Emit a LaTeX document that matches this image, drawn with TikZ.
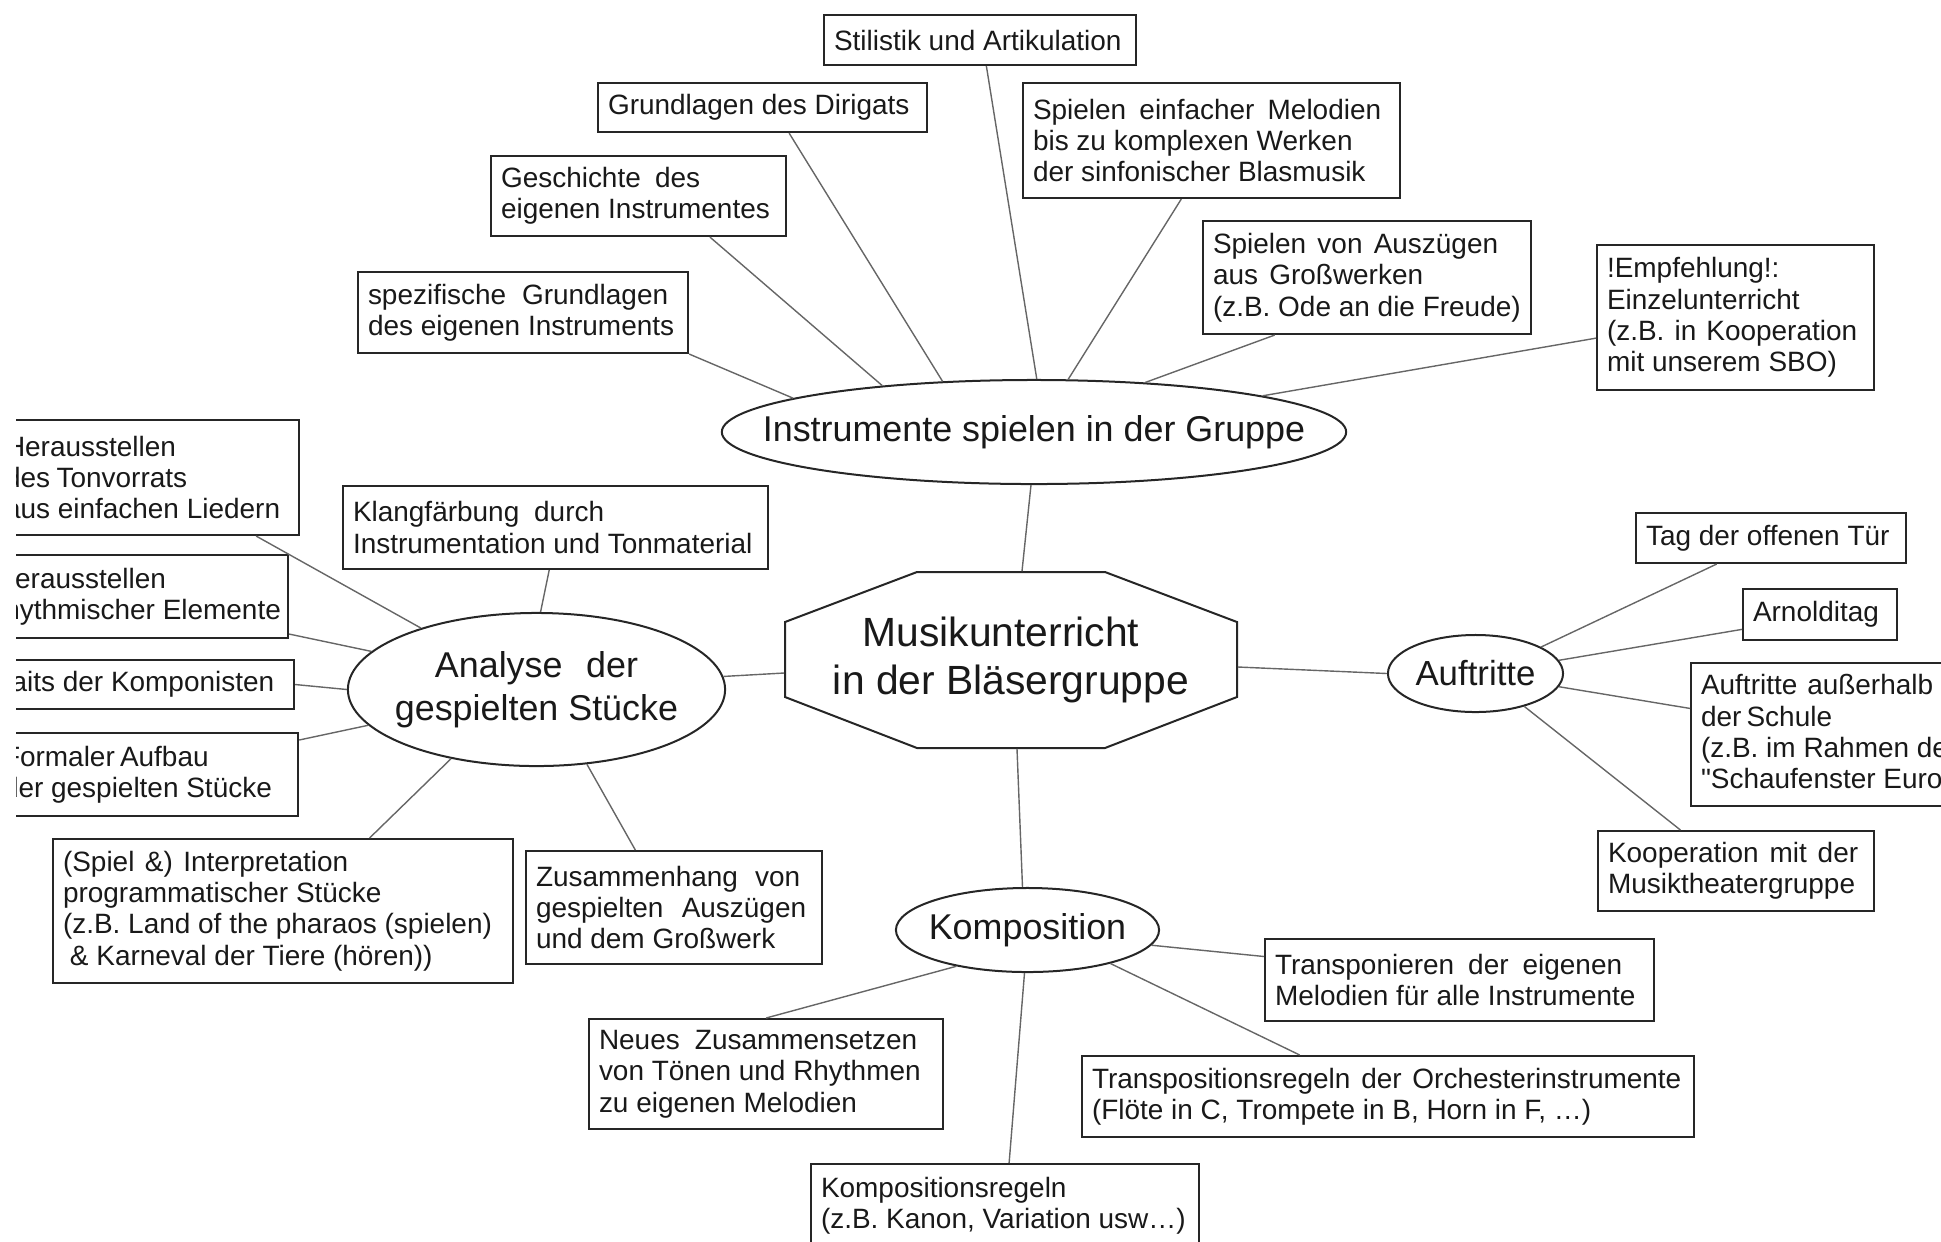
\documentclass[tikz,border=0pt]{standalone}
\usepackage{fontspec}
\setmainfont{Liberation Sans}
\newfontfamily\plainq{Liberation Sans}
\usetikzlibrary{shapes.geometric,calc}
\newcommand\nb[1]{{\spaceskip=0pt\xspaceskip=0pt\mbox{#1}}}
\newcommand\stl[2]{{\spaceskip=0pt\xspaceskip=0pt\makebox[#1][s]{#2}}}
\begin{document}
\begin{tikzpicture}[x=0.01cm,y=-0.01cm,
  bx/.style={draw=black!85, line width=0.02cm, rectangle, anchor=north west, inner xsep=0.1cm, inner ysep=0pt, align=left, font=\fontsize{7.95}{8.9}\selectfont, text=black!90},
  ell/.style={draw=black!85, line width=0.02cm, ellipse, inner sep=0pt},
  lab/.style={font=\fontsize{10.2}{11.4}\selectfont, align=center, text=black!90},
  con/.style={draw=black!60, line width=0.014cm}]
\useasboundingbox (0,0) rectangle (1941,1241);
\begin{scope}
\clip (16,0) rectangle (1941,1241);
% top boxes
\node[bx, minimum width=3.12cm, minimum height=0.50cm, text width=2.92cm] (stil) at (823,14) {\nb{Stilistik und Artikulation}};
\node[bx, minimum width=3.29cm, minimum height=0.49cm, text width=3.09cm] (dirig) at (597,82) {\nb{Grundlagen des Dirigats}};
\node[bx, minimum width=3.77cm, minimum height=1.15cm, text width=3.57cm] (spiel) at (1022,82) {\stl{3.48cm}{Spielen einfacher Melodien}\\\nb{bis zu komplexen Werken}\\\nb{der sinfonischer Blasmusik}};
\node[bx, minimum width=2.95cm, minimum height=0.80cm, text width=2.75cm] (gesch) at (490,155) {\stl{1.99cm}{Geschichte des}\\\nb{eigenen Instrumentes}};
\node[bx, minimum width=3.28cm, minimum height=1.13cm, text width=3.08cm] (ausz) at (1202,220) {\stl{2.85cm}{Spielen von Auszügen}\\\stl{2.10cm}{aus Großwerken}\\\nb{(z.B. Ode an die Freude)}};
\node[bx, minimum width=3.30cm, minimum height=0.81cm, text width=3.10cm] (spez) at (357,271) {\stl{3.00cm}{spezifische Grundlagen}\\\nb{des eigenen Instruments}};
\node[bx, minimum width=2.77cm, minimum height=1.45cm, text width=2.57cm] (empf) at (1596,244) {\nb{!Empfehlung!:}\\\nb{Einzelunterricht}\\\stl{2.50cm}{(z.B. in Kooperation}\\\nb{mit unserem SBO)}};
% left boxes
\node[bx, minimum width=3.04cm, minimum height=1.15cm, text width=2.84cm] (tonv) at (-6,419) {\nb{Herausstellen}\\\stl{1.82cm}{des Tonvorrats}\\\nb{aus einfachen Liedern}};
\node[bx, minimum width=3.03cm, minimum height=0.83cm, text width=2.83cm] (rhy) at (-16,554) {\nb{Herausstellen}\\\nb{rhythmischer Elemente}};
\node[bx, minimum width=3.53cm, minimum height=0.49cm, text width=3.33cm] (port) at (-60,659) {\nb{Portraits der Komponisten}};
\node[bx, minimum width=3.05cm, minimum height=0.83cm, text width=2.85cm] (form) at (-8,732) {\stl{1.97cm}{Formaler Aufbau}\\\nb{der gespielten Stücke}};
\node[bx, minimum width=4.25cm, minimum height=0.83cm, text width=4.05cm] (klang) at (342,485) {\stl{2.51cm}{Klangfärbung durch}\\\nb{Instrumentation und Tonmaterial}};
\node[bx, minimum width=4.60cm, minimum height=1.44cm, text width=4.40cm] (interp) at (52,838) {\stl{2.85cm}{(Spiel \&) Interpretation}\\\nb{programmatischer Stücke}\\\nb{(z.B. Land of the pharaos (spielen)}\\\nb{\hspace*{0.25em}\& Karneval der Tiere (hören))}};
\node[bx, minimum width=2.96cm, minimum height=1.13cm, text width=2.76cm] (zus) at (525,850) {\stl{2.64cm}{Zusammenhang von}\\\stl{2.70cm}{gespielten Auszügen}\\\nb{und dem Großwerk}};
% right boxes
\node[bx, minimum width=2.70cm, minimum height=0.50cm, text width=2.50cm] (tag) at (1635,512) {\nb{Tag der offenen Tür}};
\node[bx, minimum width=1.54cm, minimum height=0.51cm, text width=1.34cm] (arn) at (1742,588) {\nb{Arnolditag}};
\node[bx, minimum width=3.20cm, minimum height=1.43cm, text width=3.00cm] (ausser) at (1690,662) {\stl{2.32cm}{Auftritte außerhalb}\\\stl{1.30cm}{der Schule}\\\nb{(z.B. im Rahmen des}\\\nb{{\plainq"}Schaufenster Europa{\plainq"})}};
\node[bx, minimum width=2.76cm, minimum height=0.80cm, text width=2.56cm] (koop) at (1597,830) {\stl{2.50cm}{Kooperation mit der}\\\nb{Musiktheatergruppe}};
% bottom boxes
\node[bx, minimum width=3.89cm, minimum height=0.82cm, text width=3.69cm] (transp) at (1264,938) {\stl{3.47cm}{Transponieren der eigenen}\\\nb{Melodien für alle Instrumente}};
\node[bx, minimum width=3.54cm, minimum height=1.10cm, text width=3.34cm] (neues) at (588,1018) {\stl{3.18cm}{Neues Zusammensetzen}\\\nb{von Tönen und Rhythmen}\\\nb{zu eigenen Melodien}};
\node[bx, minimum width=6.12cm, minimum height=0.81cm, text width=5.92cm] (tregeln) at (1081,1055) {\stl{5.89cm}{Transpositionsregeln der Orchesterinstrumente}\\\nb{(Flöte in C, Trompete in B, Horn in F, …)}};
\node[bx, minimum width=3.88cm, minimum height=0.84cm, text width=3.68cm] (kreg) at (810,1163) {\nb{Kompositionsregeln}\\\nb{(z.B. Kanon, Variation usw…)}};
% ellipses
\node[ell, minimum width=6.24cm, minimum height=1.04cm, label={[lab]center:Instrumente spielen in der Gruppe}] (instr) at (1034,432) {};
\node[ell, minimum width=3.77cm, minimum height=1.53cm, label={[lab,font=\fontsize{10.2}{12.1}\selectfont]center:\stl{2.03cm}{Analyse der}\\gespielten Stücke}] (anal) at (536.5,689.5) {};
\node[ell, minimum width=1.75cm, minimum height=0.77cm, label={[lab,font=\fontsize{9.9}{11}\selectfont]center:Auftritte}] (auf) at (1475.5,673.5) {};
\node[ell, minimum width=2.63cm, minimum height=0.84cm, label={[lab]center:Komposition}] (komp) at (1027.5,930) {};
% central octagon
\node[font=\fontsize{11.6}{13.7}\selectfont, align=center, text=black!90, minimum width=4.52cm, minimum height=1.76cm, inner sep=0pt] (oct) at (1011,660) {Musikunterricht\hspace*{0.5em}\\in der Bläsergruppe};
\draw[draw=black!85, line width=0.02cm] ($(oct.center)+(-94,-88)$) -- ++(188,0) -- ($(oct.center)+(226,-38)$) -- ++(0,75) -- ($(oct.center)+(94,88)$) -- ++(-188,0) -- ($(oct.center)+(-226,37)$) -- ++(0,-75) -- cycle;
% connectors: Instrumente
\draw[con] ($(stil.south west)!0.52!(stil.south east)$) -- (instr.87);
\draw[con] ($(dirig.south west)!0.58!(dirig.south east)$) -- (instr.151);
\draw[con] ($(spiel.south west)!0.42!(spiel.south east)$) -- (instr.57);
\draw[con] ($(gesch.south west)!0.74!(gesch.south east)$) -- (instr.163);
\draw[con] ($(ausz.south west)!0.22!(ausz.south east)$) -- (instr.24);
\draw[con] (spez.south east) -- (instr.172);
\draw[con] ($(empf.north west)!0.64!(empf.south west)$) -- (instr.9);
% central
\draw[con] ($(instr.south)+(-3,0)$) -- ($(oct.north)+(11,0)$);
\draw[con] ($(oct.south)+(6,0)$) -- ($(komp.north)+(-5,0)$);
\draw[con] ($(oct.west)+(0,13)$) -- (anal.4);
\draw[con] ($(oct.east)+(0,7)$) -- (auf.west);
% Analyse
\draw[con] ($(tonv.south east)+(-44,0)$) -- (anal.152);
\draw[con] ($(rhy.south east)+(0,-5)$) -- (anal.167);
\draw[con] (port.east) -- (anal.west);
\draw[con] ($(form.north east)+(0,8)$) -- (anal.192);
\draw[con] ($(klang.south west)!0.485!(klang.south east)$) -- (anal.87);
\draw[con] ($(interp.north west)!0.687!(interp.north east)$) -- (anal.219);
\draw[con] ($(zus.north west)!0.37!(zus.north east)$) -- (anal.-56);
% Auftritte
\draw[con] ($(tag.south west)!0.30!(tag.south east)$) -- (auf.22);
\draw[con] ($(arn.north west)!0.78!(arn.south west)$) -- (auf.9);
\draw[con] ($(ausser.north west)!0.32!(ausser.south west)$) -- (auf.-9);
\draw[con] ($(koop.north west)!0.30!(koop.north east)$) -- (auf.-34);
% Komposition
\draw[con] ($(transp.north west)!0.22!(transp.south west)$) -- (komp.-7);
\draw[con] ($(neues.north west)!0.50!(neues.north east)$) -- (komp.207);
\draw[con] ($(tregeln.north west)!0.356!(tregeln.north east)$) -- (komp.-22);
\draw[con] ($(komp.south)+(-3,0)$) -- ($(kreg.north)+(4,0)$);
\end{scope}
\end{tikzpicture}
\end{document}
